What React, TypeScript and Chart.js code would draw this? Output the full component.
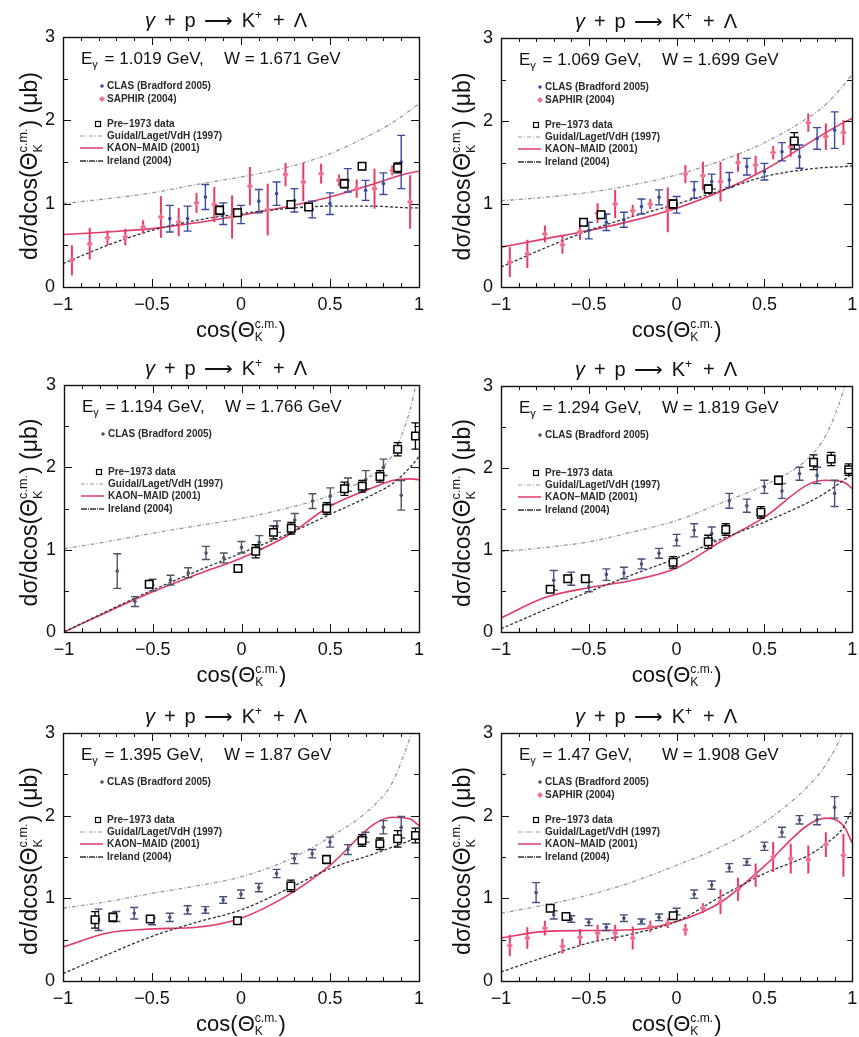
import React, { useEffect, useRef } from 'react';
import { Chart, registerables } from 'chart.js';

Chart.register(...registerables);

const FONT = "'Liberation Sans', Arial, Helvetica, sans-serif";

// ---------- shared abscissae ----------
const CURVE_X = [-1, -0.75, -0.5, -0.25, 0, 0.25, 0.5, 0.75, 0.85, 0.95, 1];
const SAPHIR_X = [-0.95, -0.85, -0.75, -0.65, -0.55, -0.45, -0.35, -0.25, -0.15, -0.05, 0.05, 0.15, 0.25, 0.35, 0.45, 0.55, 0.65, 0.75, 0.85, 0.95];
const X_TICKS = [-1, -0.5, 0, 0.5, 1];
const Y_TICKS = [0, 1, 2, 3];

const E_GAMMA = ['1.019', '1.069', '1.194', '1.294', '1.395', '1.47'];
const W_CM = ['1.671', '1.699', '1.766', '1.819', '1.87', '1.908'];

// ---------- panel 1 ----------
const P1_CLAS_X = [-0.4, -0.3, -0.2, -0.1, 0, 0.1, 0.2, 0.3, 0.4, 0.5, 0.6, 0.7, 0.8, 0.9];
const P1_CLAS_Y = [0.82, 0.82, 1.08, 0.88, 0.87, 1.03, 1.12, 1.04, 0.93, 1.0, 1.28, 1.16, 1.24, 1.5];
const P1_CLAS_ERR = [0.16, 0.15, 0.15, 0.13, 0.11, 0.14, 0.14, 0.14, 0.1, 0.13, 0.14, 0.12, 0.13, 0.32];
const P1_SAPHIR_Y = [0.32, 0.52, 0.59, 0.6, 0.72, 0.84, 0.78, 1.01, 0.99, 0.84, 1.21, 0.93, 1.35, 1.26, 1.36, 1.28, 1.18, 1.18, 1.4, 1.02];
const P1_SAPHIR_ERR = [0.18, 0.19, 0.09, 0.1, 0.08, 0.25, 0.17, 0.12, 0.21, 0.26, 0.23, 0.31, 0.14, 0.23, 0.12, 0.07, 0.11, 0.24, 0.06, 0.32];
const P1_PRE_X = [-0.12, -0.02, 0.28, 0.38, 0.58, 0.68, 0.88];
const P1_PRE_Y = [0.92, 0.89, 0.99, 0.96, 1.24, 1.45, 1.43];
const P1_PRE_ERR = [0.05, 0.04, 0.04, 0.04, 0.05, 0.04, 0.06];
const P1_GUIDAL = [1.0, 1.06, 1.13, 1.23, 1.32, 1.43, 1.6, 1.85, 1.97, 2.12, 2.2];
const P1_MAID = [0.63, 0.66, 0.7, 0.77, 0.86, 0.96, 1.08, 1.24, 1.31, 1.37, 1.39];
const P1_IRELAND = [0.28, 0.5, 0.68, 0.8, 0.88, 0.94, 0.97, 0.97, 0.96, 0.95, 0.95];

// ---------- panel 2 ----------
const P2_CLAS_X = [-0.5, -0.4, -0.3, -0.2, -0.1, 0, 0.1, 0.2, 0.3, 0.4, 0.5, 0.6, 0.7, 0.8, 0.9];
const P2_CLAS_Y = [0.68, 0.78, 0.81, 0.97, 1.08, 0.99, 1.17, 1.27, 1.29, 1.45, 1.39, 1.63, 1.57, 1.79, 1.89];
const P2_CLAS_ERR = [0.1, 0.1, 0.09, 0.09, 0.09, 0.1, 0.1, 0.09, 0.09, 0.1, 0.1, 0.11, 0.14, 0.13, 0.22];
const P2_SAPHIR_Y = [0.3, 0.4, 0.64, 0.51, 0.67, 0.89, 1.0, 0.92, 1.0, 0.93, 1.36, 1.34, 1.27, 1.5, 1.47, 1.62, 1.69, 1.98, 1.81, 1.86];
const P2_SAPHIR_ERR = [0.18, 0.17, 0.1, 0.11, 0.1, 0.12, 0.17, 0.07, 0.06, 0.27, 0.11, 0.17, 0.24, 0.11, 0.11, 0.08, 0.12, 0.11, 0.16, 0.15];
const P2_PRE_X = [-0.53, -0.43, -0.02, 0.18, 0.67];
const P2_PRE_Y = [0.78, 0.87, 1.0, 1.18, 1.76];
const P2_PRE_ERR = [0.04, 0.04, 0.05, 0.05, 0.1];
const P2_GUIDAL = [1.04, 1.08, 1.14, 1.23, 1.35, 1.52, 1.74, 2.04, 2.2, 2.43, 2.56];
const P2_MAID = [0.48, 0.58, 0.68, 0.8, 0.95, 1.15, 1.41, 1.73, 1.86, 1.98, 2.03];
const P2_IRELAND = [0.24, 0.47, 0.68, 0.85, 1.0, 1.16, 1.33, 1.42, 1.44, 1.45, 1.46];

// ---------- panel 3 ----------
const P3_CLAS_X = [-0.7, -0.6, -0.5, -0.4, -0.3, -0.2, -0.1, 0, 0.1, 0.2, 0.3, 0.4, 0.5, 0.6, 0.7, 0.8, 0.9];
const P3_CLAS_Y = [0.74, 0.37, 0.57, 0.63, 0.72, 0.96, 0.9, 1.03, 1.09, 1.28, 1.36, 1.59, 1.65, 1.79, 1.85, 2.0, 1.66];
const P3_CLAS_ERR = [0.21, 0.06, 0.07, 0.06, 0.06, 0.08, 0.06, 0.07, 0.08, 0.07, 0.08, 0.09, 0.1, 0.08, 0.11, 0.1, 0.18];
const P3_PRE_X = [-0.52, -0.02, 0.08, 0.18, 0.28, 0.48, 0.58, 0.68, 0.78, 0.88, 0.98];
const P3_PRE_Y = [0.58, 0.77, 0.98, 1.21, 1.26, 1.5, 1.74, 1.77, 1.89, 2.22, 2.38];
const P3_PRE_ERR = [0.04, 0.04, 0.08, 0.08, 0.07, 0.07, 0.08, 0.07, 0.07, 0.08, 0.16];
const P3_GUIDAL = [1.01, 1.1, 1.2, 1.29, 1.38, 1.5, 1.66, 1.93, 2.15, 2.7, 3.2];
const P3_MAID = [0.0, 0.25, 0.49, 0.7, 0.9, 1.16, 1.53, 1.76, 1.84, 1.86, 1.85];
const P3_IRELAND = [0.0, 0.26, 0.51, 0.74, 0.96, 1.18, 1.43, 1.68, 1.8, 2.0, 2.13];

// ---------- panel 4 ----------
const P4_CLAS_X = [-0.7, -0.6, -0.5, -0.4, -0.3, -0.2, -0.1, 0, 0.1, 0.2, 0.3, 0.4, 0.5, 0.6, 0.7, 0.8, 0.9];
const P4_CLAS_Y = [0.63, 0.65, 0.55, 0.7, 0.72, 0.83, 0.96, 1.12, 1.24, 1.2, 1.6, 1.54, 1.77, 1.72, 1.93, 1.91, 1.69];
const P4_CLAS_ERR = [0.12, 0.08, 0.06, 0.07, 0.07, 0.06, 0.06, 0.07, 0.08, 0.08, 0.09, 0.08, 0.08, 0.09, 0.08, 0.1, 0.16];
const P4_PRE_X = [-0.72, -0.62, -0.52, -0.02, 0.18, 0.28, 0.48, 0.58, 0.78, 0.88, 0.98];
const P4_PRE_Y = [0.52, 0.65, 0.65, 0.85, 1.1, 1.25, 1.46, 1.85, 2.07, 2.11, 1.98];
const P4_PRE_ERR = [0.03, 0.04, 0.03, 0.07, 0.08, 0.07, 0.07, 0.05, 0.09, 0.08, 0.07];
const P4_GUIDAL = [0.98, 1.03, 1.1, 1.22, 1.36, 1.57, 1.79, 2.12, 2.4, 2.95, 3.4];
const P4_MAID = [0.17, 0.42, 0.54, 0.63, 0.78, 1.1, 1.4, 1.8, 1.85, 1.83, 1.75];
const P4_IRELAND = [0.04, 0.27, 0.49, 0.7, 0.9, 1.13, 1.34, 1.58, 1.7, 1.85, 1.93];

// ---------- panel 5 ----------
const P5_CLAS_X = [-0.8, -0.7, -0.6, -0.5, -0.4, -0.3, -0.2, -0.1, 0, 0.1, 0.2, 0.3, 0.4, 0.5, 0.6, 0.7, 0.8, 0.9];
const P5_CLAS_Y = [0.74, 0.78, 0.82, 0.72, 0.77, 0.86, 0.86, 0.98, 1.05, 1.13, 1.3, 1.48, 1.54, 1.68, 1.59, 1.74, 1.86, 1.86];
const P5_CLAS_ERR = [0.13, 0.06, 0.07, 0.04, 0.05, 0.05, 0.04, 0.04, 0.05, 0.05, 0.05, 0.06, 0.05, 0.06, 0.06, 0.06, 0.08, 0.13];
const P5_PRE_X = [-0.82, -0.72, -0.51, -0.02, 0.28, 0.48, 0.68, 0.78, 0.88, 0.98];
const P5_PRE_Y = [0.74, 0.77, 0.75, 0.73, 1.15, 1.47, 1.7, 1.66, 1.72, 1.76];
const P5_PRE_ERR = [0.1, 0.05, 0.04, 0.03, 0.07, 0.05, 0.07, 0.07, 0.1, 0.09];
const P5_GUIDAL = [0.88, 0.96, 1.06, 1.15, 1.26, 1.45, 1.74, 2.13, 2.4, 2.95, 3.3];
const P5_MAID = [0.41, 0.58, 0.63, 0.65, 0.76, 1.02, 1.4, 1.9, 1.98, 1.96, 1.88];
const P5_IRELAND = [0.09, 0.32, 0.54, 0.71, 0.86, 1.1, 1.36, 1.54, 1.62, 1.7, 1.75];

// ---------- panel 6 ----------
const P6_CLAS_X = [-0.8, -0.7, -0.6, -0.5, -0.4, -0.3, -0.2, -0.1, 0, 0.1, 0.2, 0.3, 0.4, 0.5, 0.6, 0.7, 0.8, 0.9];
const P6_CLAS_Y = [1.07, 0.8, 0.75, 0.71, 0.65, 0.76, 0.72, 0.77, 0.84, 1.05, 1.16, 1.37, 1.44, 1.63, 1.8, 1.95, 1.95, 2.1];
const P6_CLAS_ERR = [0.12, 0.05, 0.04, 0.04, 0.04, 0.04, 0.03, 0.04, 0.04, 0.05, 0.05, 0.05, 0.04, 0.05, 0.06, 0.05, 0.06, 0.13];
const P6_SAPHIR_Y = [0.43, 0.52, 0.64, 0.42, 0.53, 0.58, 0.58, 0.52, 0.66, 0.7, 0.62, 0.88, 0.96, 1.11, 1.28, 1.5, 1.48, 1.47, 1.65, 1.52];
const P6_SAPHIR_ERR = [0.13, 0.13, 0.09, 0.09, 0.1, 0.1, 0.1, 0.14, 0.07, 0.06, 0.07, 0.06, 0.15, 0.14, 0.14, 0.18, 0.18, 0.17, 0.15, 0.26];
const P6_PRE_X = [-0.72, -0.63, -0.02];
const P6_PRE_Y = [0.88, 0.78, 0.79];
const P6_PRE_ERR = [0.03, 0.03, 0.03];
const P6_GUIDAL = [0.82, 0.92, 1.04, 1.2, 1.4, 1.62, 1.92, 2.36, 2.62, 3.05, 3.5];
const P6_MAID = [0.52, 0.6, 0.61, 0.62, 0.72, 0.95, 1.39, 1.89, 1.97, 1.88, 1.67];
const P6_IRELAND = [0.11, 0.29, 0.46, 0.57, 0.72, 1.02, 1.3, 1.52, 1.66, 1.86, 2.08];

// ---------- labels ----------
const L_CLAS = 'CLAS (Bradford 2005)';
const L_SAPHIR = 'SAPHIR (2004)';
const L_PRE = 'Pre\u22121973 data';
const L_GUIDAL = 'Guidal/Laget/VdH (1997)';
const L_MAID = 'KAON\u2212MAID (2001)';
const L_IRELAND = 'Ireland (2004)';

type PanelData = {
  clasX: number[]; clasY: number[]; clasErr: number[];
  saphirY?: number[]; saphirErr?: number[];
  preX: number[]; preY: number[]; preErr: number[];
  guidal: number[]; maid: number[]; ireland: number[];
};

const PANELS: PanelData[] = [
  { clasX: P1_CLAS_X, clasY: P1_CLAS_Y, clasErr: P1_CLAS_ERR, saphirY: P1_SAPHIR_Y, saphirErr: P1_SAPHIR_ERR, preX: P1_PRE_X, preY: P1_PRE_Y, preErr: P1_PRE_ERR, guidal: P1_GUIDAL, maid: P1_MAID, ireland: P1_IRELAND },
  { clasX: P2_CLAS_X, clasY: P2_CLAS_Y, clasErr: P2_CLAS_ERR, saphirY: P2_SAPHIR_Y, saphirErr: P2_SAPHIR_ERR, preX: P2_PRE_X, preY: P2_PRE_Y, preErr: P2_PRE_ERR, guidal: P2_GUIDAL, maid: P2_MAID, ireland: P2_IRELAND },
  { clasX: P3_CLAS_X, clasY: P3_CLAS_Y, clasErr: P3_CLAS_ERR, preX: P3_PRE_X, preY: P3_PRE_Y, preErr: P3_PRE_ERR, guidal: P3_GUIDAL, maid: P3_MAID, ireland: P3_IRELAND },
  { clasX: P4_CLAS_X, clasY: P4_CLAS_Y, clasErr: P4_CLAS_ERR, preX: P4_PRE_X, preY: P4_PRE_Y, preErr: P4_PRE_ERR, guidal: P4_GUIDAL, maid: P4_MAID, ireland: P4_IRELAND },
  { clasX: P5_CLAS_X, clasY: P5_CLAS_Y, clasErr: P5_CLAS_ERR, preX: P5_PRE_X, preY: P5_PRE_Y, preErr: P5_PRE_ERR, guidal: P5_GUIDAL, maid: P5_MAID, ireland: P5_IRELAND },
  { clasX: P6_CLAS_X, clasY: P6_CLAS_Y, clasErr: P6_CLAS_ERR, saphirY: P6_SAPHIR_Y, saphirErr: P6_SAPHIR_ERR, preX: P6_PRE_X, preY: P6_PRE_Y, preErr: P6_PRE_ERR, guidal: P6_GUIDAL, maid: P6_MAID, ireland: P6_IRELAND },
];

// ---------- layout & style (kept separate from data) ----------
const LAYOUT = [
  { left: 0, top: 0, W: 430, H: 345, L: 63, T: 37, R: 419, B: 287, ytx: 29 },
  { left: 430, top: 0, W: 429, H: 345, L: 71, T: 38, R: 428, B: 287, ytx: 32 },
  { left: 0, top: 345, W: 430, H: 345, L: 64, T: 40, R: 419, B: 287, ytx: 29 },
  { left: 430, top: 345, W: 429, H: 345, L: 71, T: 41, R: 428, B: 287, ytx: 32 },
  { left: 0, top: 690, W: 430, H: 347, L: 63, T: 43, R: 419, B: 291, ytx: 29 },
  { left: 430, top: 690, W: 429, H: 347, L: 71, T: 43, R: 428, B: 291, ytx: 32 },
];
const CLAS_COLOR = ['#3c4a9e', '#3c4a9e', '#4c5468', '#48507a', '#48507a', '#48507a'];
const SAPHIR_COLOR = '#ec3868';
const SAPHIR_MARK = '#f07090';
const MAID_COLOR = '#e23a68';
const GUIDAL_COLOR = '#9a9a9a';
const IRELAND_COLOR = '#333333';
const GUIDAL_DASH = [4, 2, 1, 2];
const IRELAND_DASH = [3, 2];

type Seg = { t?: string; size?: number; dy?: number; gap?: number; italic?: boolean; sup?: string; sub?: string };

function fnt(size: number, italic?: boolean, bold?: boolean) {
  return `${italic ? 'italic ' : ''}${bold ? 'bold ' : ''}${size}px ${FONT}`;
}

function richWidth(ctx: CanvasRenderingContext2D, segs: Seg[], base: number) {
  let w = 0;
  for (const s of segs) {
    if (s.sup !== undefined) {
      ctx.font = fnt(base * 0.55);
      w += Math.max(ctx.measureText(s.sup).width, ctx.measureText(s.sub || '').width);
    } else {
      ctx.font = fnt(s.size ?? base, s.italic);
      w += ctx.measureText(s.t || '').width;
    }
    w += s.gap ?? 0;
  }
  return w;
}

function drawRich(ctx: CanvasRenderingContext2D, segs: Seg[], x: number, y: number, base: number) {
  let cx = x;
  ctx.textAlign = 'left';
  ctx.textBaseline = 'alphabetic';
  for (const s of segs) {
    if (s.sup !== undefined) {
      ctx.font = fnt(base * 0.55);
      ctx.fillText(s.sup, cx, y - base * 0.42);
      ctx.fillText(s.sub || '', cx, y + base * 0.2);
      cx += Math.max(ctx.measureText(s.sup).width, ctx.measureText(s.sub || '').width);
    } else {
      ctx.font = fnt(s.size ?? base, s.italic);
      ctx.fillText(s.t || '', cx, y + (s.dy ?? 0));
      cx += ctx.measureText(s.t || '').width;
    }
    cx += s.gap ?? 0;
  }
}

const TITLE_SEGS: Seg[] = [
  { t: '\u03b3', italic: true, gap: 9 }, { t: '+', gap: 9 }, { t: 'p', gap: 8 }, { t: '\u27f6', gap: 9 },
  { t: 'K' }, { t: '+', size: 12, dy: -8, gap: 11 }, { t: '+', gap: 9 }, { t: '\u039b' },
];
const YTITLE_SEGS: Seg[] = [{ t: 'd\u03c3/dcos(\u0398' }, { sup: 'c.m.', sub: 'K', gap: 1 }, { t: ') (\u03bcb)' }];
const XTITLE_SEGS: Seg[] = [{ t: 'cos(\u0398' }, { sup: 'c.m.', sub: 'K', gap: 1 }, { t: ')' }];

function fmtTick(v: number) {
  if (v === 0) return '0';
  return (v < 0 ? '\u2212' : '') + String(Math.abs(v));
}

function makePlugin(idx: number) {
  const lay = LAYOUT[idx];
  const pd = PANELS[idx];
  return {
    id: 'physicsDecor' + idx,
    beforeDatasetDraw(chart: any, args: any) {
      const ds = chart.data.datasets[args.index];
      if (!ds.errors) return;
      const ctx = chart.ctx as CanvasRenderingContext2D;
      const xs = chart.scales.x, ys = chart.scales.y, a = chart.chartArea;
      ctx.save();
      ctx.beginPath();
      ctx.rect(a.left, a.top, a.right - a.left, a.bottom - a.top);
      ctx.clip();
      ctx.strokeStyle = ds.errorColor;
      ctx.lineWidth = ds.errorWidth;
      ds.data.forEach((p: any, i: number) => {
        const e = ds.errors[i];
        const px = xs.getPixelForValue(p.x);
        const y1 = ys.getPixelForValue(p.y - e);
        const y2 = ys.getPixelForValue(p.y + e);
        ctx.beginPath();
        ctx.moveTo(px, y1);
        ctx.lineTo(px, y2);
        if (ds.cap) {
          ctx.moveTo(px - ds.cap, y1); ctx.lineTo(px + ds.cap, y1);
          ctx.moveTo(px - ds.cap, y2); ctx.lineTo(px + ds.cap, y2);
        }
        ctx.stroke();
      });
      ctx.restore();
    },
    afterDatasetsDraw(chart: any) {
      const ctx = chart.ctx as CanvasRenderingContext2D;
      const xs = chart.scales.x, ys = chart.scales.y, a = chart.chartArea;
      ctx.save();
      // ticks, inward
      ctx.strokeStyle = '#111';
      ctx.lineWidth = 1;
      ctx.beginPath();
      for (let i = -9; i <= 9; i++) {
        const px = Math.round(xs.getPixelForValue(i / 10)) + 0.5;
        const len = i % 5 === 0 ? 8 : 4;
        ctx.moveTo(px, a.bottom); ctx.lineTo(px, a.bottom - len);
        ctx.moveTo(px, a.top); ctx.lineTo(px, a.top + len);
      }
      for (let i = 1; i <= 5; i++) {
        const py = Math.round(ys.getPixelForValue(i / 2)) + 0.5;
        const len = i % 2 === 0 ? 8 : 5;
        ctx.moveTo(a.left, py); ctx.lineTo(a.left + len, py);
        ctx.moveTo(a.right, py); ctx.lineTo(a.right - len, py);
      }
      ctx.stroke();
      ctx.lineWidth = 1.4;
      ctx.strokeRect(Math.round(a.left) + 0.5, Math.round(a.top) + 0.5, Math.round(a.right - a.left), Math.round(a.bottom - a.top));

      ctx.fillStyle = '#111';
      // annotation
      drawRich(ctx, [{ t: 'E' }, { t: '\u03b3', size: 11, dy: 4, gap: 2 }, { t: ' = ' + E_GAMMA[idx] + ' GeV,' }], a.left + 18, a.top + 27, 17);
      drawRich(ctx, [{ t: 'W = ' + W_CM[idx] + ' GeV' }], a.left + 161, a.top + 27, 17);

      // legend
      const lx = a.left, ty = a.top;
      ctx.textBaseline = 'middle';
      const text = (s: string, yy: number) => {
        ctx.fillStyle = '#2a2a2a'; ctx.font = fnt(10, false, true); ctx.textAlign = 'left'; ctx.textBaseline = 'middle';
        ctx.fillText(s, lx + 44, yy);
      };
      ctx.fillStyle = CLAS_COLOR[idx];
      ctx.beginPath(); ctx.arc(lx + 39, ty + 49, 1.8, 0, Math.PI * 2); ctx.fill();
      text(L_CLAS, ty + 49);
      if (pd.saphirY) {
        ctx.fillStyle = SAPHIR_MARK;
        ctx.beginPath();
        ctx.moveTo(lx + 39, ty + 59); ctx.lineTo(lx + 42, ty + 62); ctx.lineTo(lx + 39, ty + 65); ctx.lineTo(lx + 36, ty + 62);
        ctx.closePath(); ctx.fill();
        text(L_SAPHIR, ty + 62);
      }
      ctx.strokeStyle = '#000'; ctx.lineWidth = 1.2;
      ctx.strokeRect(lx + 32.5, ty + 84.5, 5, 5);
      text(L_PRE, ty + 87);
      const seg = (yy: number, color: string, dash: number[], w: number) => {
        ctx.strokeStyle = color; ctx.lineWidth = w; ctx.setLineDash(dash);
        ctx.beginPath(); ctx.moveTo(lx + 17, yy); ctx.lineTo(lx + 40, yy); ctx.stroke(); ctx.setLineDash([]);
      };
      seg(ty + 99, GUIDAL_COLOR, GUIDAL_DASH, 1.2); text(L_GUIDAL, ty + 99);
      seg(ty + 111, MAID_COLOR, [], 1.5); text(L_MAID, ty + 111);
      seg(ty + 124, IRELAND_COLOR, [6, 1, 1, 1], 1.3); text(L_IRELAND, ty + 124);

      // titles
      ctx.fillStyle = '#111';
      const tw = richWidth(ctx, TITLE_SEGS, 20);
      drawRich(ctx, TITLE_SEGS, 226 - tw / 2, a.top - 10, 20);
      const xw = richWidth(ctx, XTITLE_SEGS, 22);
      drawRich(ctx, XTITLE_SEGS, (a.left + a.right) / 2 - xw / 2, a.bottom + 50, 22);
      const yw = richWidth(ctx, YTITLE_SEGS, 23);
      ctx.translate(lay.ytx, (a.top + a.bottom) / 2 + 4);
      ctx.rotate(-Math.PI / 2);
      drawRich(ctx, YTITLE_SEGS, -yw / 2, 8, 23);
      ctx.restore();
    },
  };
}

function Panel({ idx }: { idx: number }) {
  const ref = useRef<HTMLCanvasElement | null>(null);
  const lay = LAYOUT[idx];
  useEffect(() => {
    const pd = PANELS[idx];
    const pts = (xs: number[], ys: number[]) => xs.map((x, i) => ({ x, y: ys[i] }));
    const curve = (label: string, ys: number[], color: string, dash: number[], w: number) => ({
      label, data: pts(CURVE_X, ys), showLine: true, borderColor: color, borderDash: dash, borderWidth: w,
      pointRadius: 0, fill: false, cubicInterpolationMode: 'monotone', order: 10,
    });
    const datasets: any[] = [
      curve(L_GUIDAL, pd.guidal, GUIDAL_COLOR, GUIDAL_DASH, 1.3),
      curve(L_IRELAND, pd.ireland, IRELAND_COLOR, IRELAND_DASH, 1.3),
      curve(L_MAID, pd.maid, MAID_COLOR, [], 1.6),
    ];
    if (pd.saphirY && pd.saphirErr) {
      datasets.push({
        label: L_SAPHIR, data: pts(SAPHIR_X, pd.saphirY), errors: pd.saphirErr, errorColor: SAPHIR_COLOR, errorWidth: 2, cap: 0,
        pointStyle: 'rectRot', pointRadius: 3.2, backgroundColor: SAPHIR_MARK, borderWidth: 0, showLine: false, order: 3,
      });
    }
    datasets.push({
      label: L_CLAS, data: pts(pd.clasX, pd.clasY), errors: pd.clasErr, errorColor: CLAS_COLOR[idx], errorWidth: 1.4, cap: 4,
      pointStyle: 'circle', pointRadius: 1.8, backgroundColor: CLAS_COLOR[idx], borderWidth: 0, showLine: false, order: 2,
    });
    datasets.push({
      label: L_PRE, data: pts(pd.preX, pd.preY), errors: pd.preErr, errorColor: '#000', errorWidth: 1.3, cap: 4,
      pointStyle: 'rect', pointRadius: 5.3, backgroundColor: '#fff', borderColor: '#000', borderWidth: 1.5, showLine: false, order: 1,
    });

    const chart = new Chart(ref.current as HTMLCanvasElement, {
      type: 'scatter',
      data: { datasets },
      options: {
        responsive: false,
        animation: false,
        events: [],
        layout: { padding: { left: 0, top: lay.T, right: lay.W - lay.R, bottom: 0 } },
        scales: {
          x: {
            type: 'linear', min: -1, max: 1,
            grid: { display: false, drawTicks: false }, border: { display: false },
            afterBuildTicks: (s: any) => { s.ticks = X_TICKS.map((v) => ({ value: v })); },
            ticks: { padding: 7, color: '#111', font: { family: FONT, size: 18 }, maxRotation: 0, autoSkip: false, callback: (v: any) => fmtTick(Number(v)) },
            afterFit: (s: any) => { s.height = lay.H - lay.B; s.paddingLeft = 0; s.paddingRight = 0; },
          },
          y: {
            type: 'linear', min: 0, max: 3,
            grid: { display: false, drawTicks: false }, border: { display: false },
            afterBuildTicks: (s: any) => { s.ticks = Y_TICKS.map((v) => ({ value: v })); },
            ticks: { padding: 8, color: '#111', font: { family: FONT, size: 18 }, callback: (v: any) => fmtTick(Number(v)) },
            afterFit: (s: any) => { s.width = lay.L; s.paddingTop = 0; s.paddingBottom = 0; },
          },
        },
        plugins: { legend: { display: false }, tooltip: { enabled: false }, title: { display: false } },
      } as any,
      plugins: [makePlugin(idx)],
    });
    return () => chart.destroy();
  }, [idx]);
  return (
    <canvas
      ref={ref}
      width={lay.W}
      height={lay.H}
      style={{ position: 'absolute', left: lay.left, top: lay.top, width: lay.W, height: lay.H }}
    />
  );
}

export default function App() {
  useEffect(() => {
    document.body.style.margin = '0';
    document.body.style.background = '#fff';
  }, []);
  return (
    <div style={{ position: 'relative', width: 859, height: 1037, background: '#fff', overflow: 'hidden' }}>
      {PANELS.map((_, i) => (
        <Panel key={i} idx={i} />
      ))}
    </div>
  );
}
